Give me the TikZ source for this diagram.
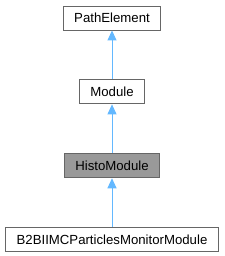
\documentclass[tikz,border=0pt]{standalone}
\usepackage{fontspec}
\setmainfont{Liberation Sans}
\usetikzlibrary{arrows.meta,positioning}
\definecolor{Edge}{HTML}{63B8FF}
\definecolor{Frame}{HTML}{666666}
\definecolor{Focus}{HTML}{999999}
\tikzset{
  cls/.style={rectangle, draw=Frame, fill=white, line width=0.9pt,
    minimum height=24pt, inner xsep=11pt, inner ysep=0pt,
    font=\fontsize{13.2}{15}\selectfont},
  current/.style={cls, fill=Focus},
  inherit/.style={{Triangle[length=10pt,width=9pt,fill=Edge]}-, line width=1pt, draw=Edge}
}
\begin{document}
\begin{tikzpicture}[x=1pt,y=1pt,node distance=49pt]
  \useasboundingbox (0,0) rectangle (224,-256);
  \node[cls] (pathelement) at (112,-18) {PathElement};
  \node[cls, below=of pathelement] (module) {Module};
  \node[current, below=of module] (histo) {HistoModule};
  \node[cls, below=of histo] (monitor) {B2BIIMCParticlesMonitorModule};

  \draw[inherit] (pathelement) -- (module);
  \draw[inherit] (module) -- (histo);
  \draw[inherit] (histo) -- (monitor);
\end{tikzpicture}
\end{document}
